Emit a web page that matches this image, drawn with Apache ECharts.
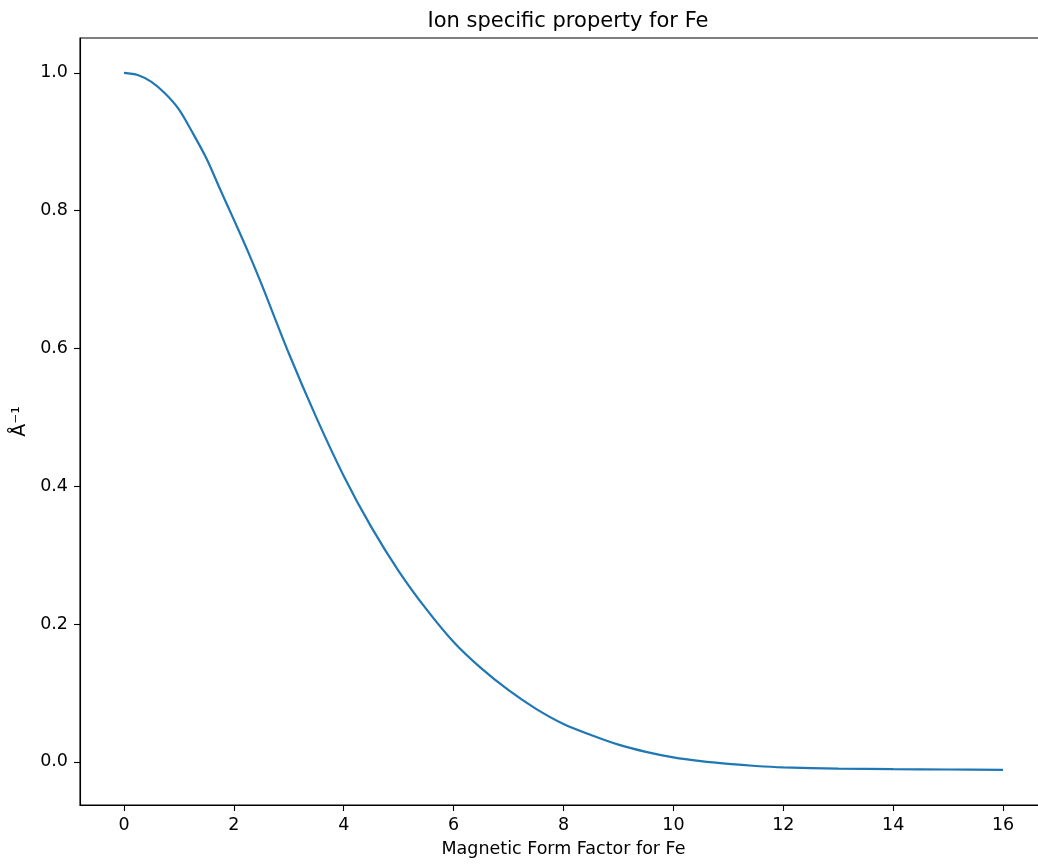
<!DOCTYPE html>
<html>
<head>
<meta charset="utf-8">
<script src="https://cdn.jsdelivr.net/npm/echarts@6/dist/echarts.min.js"></script>
<style>
html,body{margin:0;padding:0;background:#fff;}
#chart{width:1038px;height:865px;}
</style>
</head>
<body>
<div id="chart"></div>
<script>
const titleText = 'Ion specific property for Fe';
const xName = 'Magnetic Form Factor for Fe';
const yName = 'Å⁻¹';
const xValues = [0, 0.25, 0.5, 0.75, 1, 1.25, 1.5, 1.75, 2, 2.25, 2.5, 3, 3.5, 4, 4.5, 5, 5.5, 6, 6.5, 7, 7.5, 8, 8.5, 9, 9.5, 10, 10.5, 11, 11.5, 12, 13, 14, 15, 16];
const yValues = [1.0, 0.997, 0.987, 0.970, 0.947, 0.913, 0.876, 0.831, 0.787, 0.742, 0.694, 0.593, 0.500, 0.415, 0.341, 0.277, 0.222, 0.174, 0.136, 0.104, 0.077, 0.055, 0.039, 0.025, 0.0145, 0.0065, 0.001, -0.003, -0.006, -0.008, -0.0098, -0.0106, -0.0111, -0.0116];
const xTicks = [0, 2, 4, 6, 8, 10, 12, 14, 16];
const yTicks = [0.0, 0.2, 0.4, 0.6, 0.8, 1.0];

const data = xValues.map((x, i) => [x, yValues[i]]);
const font = 'DejaVu Sans';
const chart = echarts.init(document.getElementById('chart'), null, {renderer: 'canvas'});
chart.setOption({
  animation: false,
  backgroundColor: '#ffffff',
  title: {
    text: titleText,
    left: 563,
    top: 6,
    textAlign: 'center',
    textStyle: {fontFamily: font, fontSize: 21, fontWeight: 'normal', color: '#000'}
  },
  grid: {
    left: 80, top: 38, width: 967, height: 767,
    containLabel: false,
    outerBoundsMode: 'none',
    show: true, borderColor: '#000', borderWidth: 1.1, backgroundColor: 'transparent'
  },
  xAxis: {
    type: 'value',
    min: -0.8, max: 16.8,
    name: xName,
    nameLocation: 'middle',
    nameGap: 35,
    nameTextStyle: {fontFamily: font, fontSize: 17.5, color: '#000'},
    splitLine: {show: false},
    axisLine: {show: true, onZero: false, lineStyle: {color: '#000', width: 1.1}},
    axisTick: {show: true, inside: false, length: 6, lineStyle: {color: '#000', width: 1.1}, customValues: xTicks},
    axisLabel: {fontFamily: font, fontSize: 17.5, color: '#000', margin: 11, customValues: xTicks, formatter: v => String(v)}
  },
  yAxis: {
    type: 'value',
    min: -0.0626, max: 1.0506,
    name: yName,
    nameLocation: 'middle',
    nameGap: 47,
    nameRotate: 90,
    nameTextStyle: {fontFamily: font, fontSize: 19, color: '#000'},
    splitLine: {show: false},
    axisLine: {show: true, onZero: false, lineStyle: {color: '#000', width: 1.1}},
    axisTick: {show: true, inside: false, length: 6, lineStyle: {color: '#000', width: 1.1}, customValues: yTicks},
    axisLabel: {fontFamily: font, fontSize: 17.5, color: '#000', margin: 12, customValues: yTicks, formatter: v => v.toFixed(1)}
  },
  series: [{
    type: 'line',
    data: data,
    showSymbol: false,
    smooth: 0.3,
    lineStyle: {color: '#1f77b4', width: 2.2},
    itemStyle: {color: '#1f77b4'}
  }]
});
</script>
</body>
</html>
